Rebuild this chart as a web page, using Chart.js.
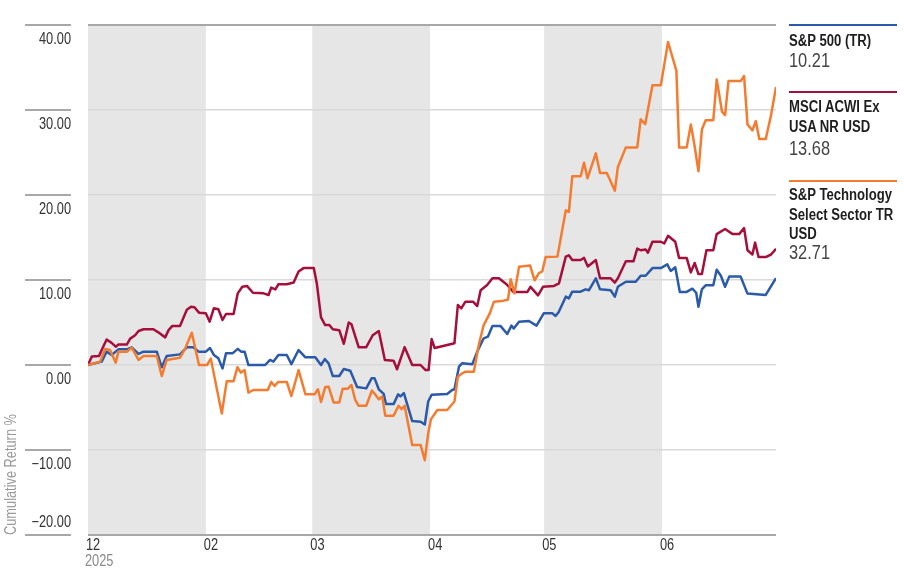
<!DOCTYPE html>
<html><head><meta charset="utf-8">
<script src="https://cdn.jsdelivr.net/npm/chart.js@4.4.1/dist/chart.umd.min.js"></script>
<style>
html,body{margin:0;padding:0;background:#fff;}
#wrap{position:relative;width:904px;height:576px;overflow:hidden;font-family:'Liberation Sans',Arial,sans-serif;}
canvas{position:absolute;left:0;top:0;}
.rule{position:absolute;left:789px;width:108px;height:2px;}
.nm,.vl{position:absolute;left:789px;white-space:nowrap;transform:scaleX(0.82);transform-origin:0 0;}
.nm{font-weight:bold;font-size:16px;line-height:19.5px;color:#1e1e1e;}
.vl{font-size:20px;line-height:22px;color:#444;}
</style></head><body>
<div id="wrap">
<canvas id="c" width="904" height="576"></canvas>
<div class="rule" style="top:24px;background:#2a5aa8"></div>
<div class="nm" style="top:31px">S&amp;P 500 (TR)</div>
<div class="vl" style="top:49px">10.21</div>
<div class="rule" style="top:91px;background:#a50f3c"></div>
<div class="nm" style="top:97px">MSCI ACWI Ex<br>USA NR USD</div>
<div class="vl" style="top:137px">13.68</div>
<div class="rule" style="top:180px;background:#f47c30"></div>
<div class="nm" style="top:185px">S&amp;P Technology<br>Select Sector TR<br>USD</div>
<div class="vl" style="top:241px">32.71</div>
</div>
<script>
// time axis in days since the first observation (Dec 31)
const monthTicks = [0, 31, 59, 90, 120, 151];
const monthLabels = ['12', '02', '03', '04', '05', '06'];
const yearLabel = '2025';
const bands = [[0, 31], [59, 90], [120, 151]];
const yTicks = [40, 30, 20, 10, 0, -10, -20];
const yTickLabels = ['40.00', '30.00', '20.00', '10.00', '0.00', '\u221210.00', '\u221220.00'];
const yTitle = 'Cumulative Return %';

const spDays = [0,1.8,3.6,4.9,6.2,8.0,10.2,11.5,13.3,14.6,18.1,19.4,20.7,24.2,26.0,27.7,29.1,31.0,32.1,33.1,34.3,35.4,36.3,38.0,39.4,40.3,41.2,42.2,46.6,47.9,48.8,50.1,52.3,53.5,55.4,57.2,59.8,61.3,62.3,63.3,64.4,66.1,67.3,69.0,70.8,73.2,74.6,75.4,76.5,77.8,78.4,80.4,81.6,82.2,83.1,85.3,87.5,88.6,89.5,90.4,94.5,95.8,96.4,97.6,98.4,101.1,102.4,104.1,105.2,106.4,108.5,110.3,111.4,112.0,113.4,116.0,118.0,119.9,122.2,123.0,123.8,125.7,126.5,127.4,129.6,130.9,131.8,133.6,134.7,137.5,138.6,139.4,141.5,144.1,145.4,146.7,148.5,150.7,152.4,153.3,154.5,155.7,157.5,159.0,160.0,160.6,161.5,162.5,164.5,165.4,166.5,167.6,168.7,171.7,173.5,178.3,181];
const spVals = [0,0.2,0.4,1.57,1.18,1.84,1.84,2.08,1.3,1.57,1.57,-0.27,1.06,1.25,2.08,2.08,1.57,1.57,2.0,1.18,0.78,-0.4,1.37,1.37,1.9,1.57,1.57,0.0,0.0,0.6,0.4,1.18,1.18,0.1,1.76,0.9,0.9,0.0,0.7,0.2,-1.3,-1.3,-0.47,-0.67,-2.6,-2.75,-1.57,-1.57,-2.86,-3.4,-4.6,-4.6,-3.45,-3.7,-3.3,-6.6,-6.67,-7.0,-4.3,-3.5,-3.4,-2.94,-2.86,-0.2,0.2,0.08,1.57,3.14,3.33,4.6,4.6,3.65,4.63,4.3,5.1,5.18,4.63,6.08,6.08,5.76,6.2,8.04,7.84,8.63,8.63,8.9,8.8,10.2,8.9,8.8,8.04,9.2,9.8,9.8,10.5,10.5,11.4,11.4,11.84,11.06,11.5,8.6,8.6,8.98,8.5,6.86,8.9,9.37,9.37,11.2,10.5,9.2,10.4,10.4,8.4,8.24,10.21];

const acDays = [0,1.0,2.9,3.6,4.9,6.2,7.3,8.0,10.2,11.1,12.4,13.3,14.6,17.2,18.5,20.3,21.2,22.2,24.2,26.0,27.1,28.0,29.2,31.0,32.0,33.1,34.3,35.4,36.3,38.3,39.4,40.6,41.8,43.4,46.2,47.5,48.2,49.3,50.1,52.3,54.1,55.4,56.7,59.4,60.2,61.3,62.4,63.5,64.4,66.1,67.3,68.6,69.3,71.2,73.2,74.9,76.5,78.1,80.4,81.3,83.3,85.3,87.5,88.8,89.6,90.4,91.2,94.5,96.4,97.3,98.2,99.3,101.3,102.4,103.3,105.0,106.4,108.1,110.1,111.9,115.6,116.4,118.4,119.7,122.6,123.9,125.7,126.5,127.4,129.6,130.5,131.5,133.6,134.7,137.5,138.6,139.4,141.5,143.5,144.5,145.4,146.7,147.3,148.5,150.7,151.6,152.6,154.5,155.5,157.5,158.6,159.6,160.6,161.5,162.7,164.5,165.4,167.6,169.6,171.3,172.6,173.5,174.8,175.5,176.4,178.3,179.7,181];
const acVals = [0,1.0,1.06,1.76,3.0,2.6,2.16,2.4,2.4,3.1,3.5,4.0,4.2,4.2,3.84,3.25,4.1,4.6,4.6,6.5,6.86,6.8,6.16,6.08,5.1,6.67,6.55,5.3,6.0,6.0,8.43,9.2,9.3,8.5,8.43,8.24,9.1,8.9,9.5,9.5,9.7,11.0,11.4,11.4,9.6,5.6,4.7,4.7,4.2,4.1,2.5,5.0,4.8,2.1,2.1,3.5,4.0,0.6,0.5,-0.5,2.1,0.0,0.0,-0.6,-0.6,3.05,2.0,2.35,2.55,7.06,6.67,7.45,7.45,6.94,8.8,9.4,10.2,10.2,9.5,8.6,8.6,9.2,8.2,9.2,9.3,9.6,12.75,12.9,12.35,12.35,12.6,11.6,12.35,10.2,10.2,9.7,10.2,12.2,12.2,13.7,13.5,13.6,13.2,14.5,14.5,14.3,15.2,14.5,12.6,12.6,10.9,12.0,10.7,10.7,13.5,13.5,15.4,16.0,15.4,15.4,16.1,13.5,13.0,14.4,12.7,12.7,13.0,13.68];

const tkDays = [0,3.2,4.5,5.8,7.3,8.0,10.2,11.5,13.3,14.6,18.1,19.4,20.7,24.2,25.6,27.3,29.2,31.3,32.3,35.2,36.5,38.3,39.3,40.2,41.2,42.2,43.5,47.3,48.2,49.1,50.0,52.3,53.5,55.4,57.2,59.6,60.5,61.3,62.4,63.3,64.6,66.1,67.0,68.3,69.3,70.3,71.2,73.2,74.7,75.6,76.5,77.4,78.2,80.4,81.7,82.5,83.3,85.3,87.5,88.6,89.5,90.2,91.9,94.5,96.4,97.3,98.4,99.3,101.5,102.8,104.1,105.7,106.8,109.4,110.5,111.2,112.2,113.4,116.3,117.5,118.6,119.5,120.4,123.5,125.7,126.5,127.4,129.6,130.5,131.4,133.6,134.7,136.5,138.6,139.4,141.5,144.5,145.4,146.6,148.5,150.7,152.6,154.8,155.5,157.5,158.6,159.5,160.6,161.5,162.5,164.5,165.4,166.8,167.6,168.5,171.7,172.6,173.5,174.8,175.7,176.6,178.3,179.7,181];
const tkVals = [0,0.4,1.88,1.76,0.27,1.57,1.57,2.04,0.6,1.06,1.06,-1.3,0.6,0.86,1.96,3.8,0.0,0.0,0.75,-5.7,-1.9,-1.9,-0.27,-0.9,-0.6,-3.25,-2.94,-2.94,-2.0,-2.47,-2.0,-2.0,-3.65,-0.6,-3.45,-3.45,-2.85,-4.35,-2.6,-2.55,-4.4,-4.4,-2.8,-2.8,-2.35,-4.1,-4.8,-4.8,-3.0,-3.5,-4.04,-3.7,-5.96,-5.96,-4.8,-5.2,-4.8,-9.4,-9.4,-11.2,-8.04,-6.4,-5.3,-5.3,-4.3,-1.37,-1.0,-0.78,-0.78,2.35,4.7,6.08,7.45,7.57,7.7,10.08,8.43,11.57,11.7,9.96,10.8,11.0,12.7,12.75,18.2,18.0,22.2,22.2,23.8,21.96,24.9,22.6,22.6,20.5,23.3,25.6,25.6,28.9,28.35,32.9,32.9,38.0,34.6,25.6,25.6,28.3,26.0,22.8,27.7,28.8,28.8,33.6,29.8,29.4,33.4,33.4,34.0,28.3,27.6,28.7,26.6,26.6,29.4,32.71];

const seriesNames = ['S&P 500 (TR)', 'MSCI ACWI Ex USA NR USD', 'S&P Technology Select Sector TR USD'];
const seriesColors = ['#2a5aa8', '#a50f3c', '#f47c30'];

const FONT = "'Liberation Sans',Arial,sans-serif";
const NARROW = 0.8;
const pts = (xs, ys) => xs.map((d, i) => ({x: d, y: ys[i]}));

function narrowText(ctx, text, x, y, align) {
  ctx.save();
  ctx.translate(x, y);
  ctx.scale(NARROW, 1);
  ctx.textAlign = align;
  ctx.fillText(text, 0, 0);
  ctx.restore();
}

const bandPlugin = {
  id: 'bands',
  beforeDraw(ch) {
    const {ctx, chartArea: a, scales: {x}} = ch;
    ctx.save();
    ctx.fillStyle = '#e6e6e6';
    bands.forEach(([s, e]) => {
      const x0 = x.getPixelForValue(s), x1 = x.getPixelForValue(e);
      ctx.fillRect(x0, a.top, x1 - x0, a.bottom - a.top);
    });
    ctx.restore();
  }
};

const labelPlugin = {
  id: 'labels',
  afterDraw(ch) {
    const {ctx, chartArea: a, scales: {x, y}} = ch;
    ctx.save();
    ctx.textBaseline = 'middle';
    // left tick segments and y tick labels
    yTicks.forEach((v, i) => {
      const py = y.getPixelForValue(v);
      ctx.strokeStyle = '#a8a8a8';
      ctx.lineWidth = 2;
      ctx.beginPath(); ctx.moveTo(25, py); ctx.lineTo(71, py); ctx.stroke();
      ctx.fillStyle = '#333';
      ctx.font = '16px ' + FONT;
      const ly = (v === y.min) ? py - 12 : py + 15;
      narrowText(ctx, yTickLabels[i], 71, ly, 'right');
    });
    // month labels
    ctx.font = '16px ' + FONT;
    ctx.fillStyle = '#333';
    monthTicks.forEach((v, i) => {
      narrowText(ctx, monthLabels[i], x.getPixelForValue(v) - 2, a.bottom + 11, 'left');
    });
    // year under first month tick
    ctx.fillStyle = '#8a8a8a';
    narrowText(ctx, yearLabel, x.getPixelForValue(monthTicks[0]) - 3, a.bottom + 27, 'left');
    // axis title
    ctx.translate(12, a.bottom);
    ctx.rotate(-Math.PI / 2);
    ctx.fillStyle = '#9a9a9a';
    ctx.font = '16px ' + FONT;
    narrowText(ctx, yTitle, 0, 0, 'left');
    ctx.restore();
  }
};

const mk = (i, xs, ys, order) => ({
  label: seriesNames[i], data: pts(xs, ys), borderColor: seriesColors[i],
  backgroundColor: seriesColors[i], borderWidth: 2.5, pointRadius: 0, tension: 0,
  fill: false, order: order, borderJoinStyle: 'round'
});

new Chart(document.getElementById('c'), {
  type: 'line',
  data: { datasets: [ mk(0, spDays, spVals, 2), mk(1, acDays, acVals, 1), mk(2, tkDays, tkVals, 0) ] },
  options: {
    responsive: false, animation: false,
    layout: { padding: { top: 25, right: 128, left: 0, bottom: 0 } },
    plugins: { legend: { display: false }, tooltip: { enabled: false } },
    scales: {
      x: {
        type: 'linear', min: 0, max: 181, offset: false,
        grid: { display: false }, border: { display: false },
        afterBuildTicks: s => { s.ticks = monthTicks.map(v => ({ value: v })); },
        afterFit: s => { s.height = 41; },
        ticks: { display: false }
      },
      y: {
        min: -20, max: 40,
        afterBuildTicks: s => { s.ticks = yTicks.map(v => ({ value: v })); },
        afterFit: s => { s.width = 88; },
        ticks: { display: false }, border: { display: false },
        grid: { drawTicks: false,
          color: c => (c.tick && (c.tick.value === 40 || c.tick.value === -20)) ? '#a8a8a8' : '#d9d9d9',
          lineWidth: c => (c.tick && (c.tick.value === 40 || c.tick.value === -20)) ? 2 : 1.5 }
      }
    }
  },
  plugins: [bandPlugin, labelPlugin]
});
</script>
</body></html>
